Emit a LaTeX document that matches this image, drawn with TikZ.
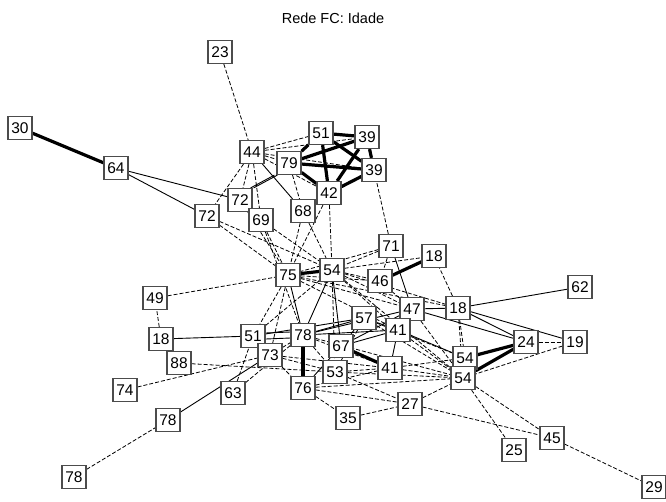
\documentclass[tikz,border=0pt]{standalone}
\usepackage{fontspec}
\setmainfont{Liberation Sans}
\usetikzlibrary{backgrounds}
\begin{document}
\begin{tikzpicture}[x=1pt,y=-1pt,
  v/.style={draw=black!70,line width=1.2pt,fill=white,minimum width=24pt,minimum height=23pt,inner sep=0pt,font=\fontsize{15.5}{15.5}\selectfont},
  ds/.style={line width=0.8pt,dash pattern=on 4pt off 2pt},
  sl/.style={line width=0.9pt},
  tk/.style={line width=3.2pt}]
\useasboundingbox (0,0) rectangle (666,501);
\node[font=\fontsize{14.5}{14.5}\selectfont] (title) at (333,18) {Rede FC: Idade};
\node[v] (n30) at (20,128) {30};
\node[v] (n64) at (116,168) {64};
\node[v] (n23) at (220,52) {23};
\node[v] (n44) at (252,152) {44};
\node[v] (n79) at (289,163) {79};
\node[v] (n51a) at (321,133) {51};
\node[v] (n39a) at (367,137) {39};
\node[v] (n39b) at (374,170) {39};
\node[v] (n42) at (329,193) {42};
\node[v] (n72a) at (240,200) {72};
\node[v] (n72b) at (207,216) {72};
\node[v] (n69) at (261,220) {69};
\node[v] (n68) at (303,211) {68};
\node[v] (n71) at (391,246) {71};
\node[v] (n18a) at (434,256) {18};
\node[v] (n75) at (288,275) {75};
\node[v] (n54a) at (332,270) {54};
\node[v] (n46) at (380,281) {46};
\node[v] (n62) at (580,287) {62};
\node[v] (n49) at (155,298) {49};
\node[v] (n47) at (412,309) {47};
\node[v] (n18b) at (458,308) {18};
\node[v] (n57) at (364,318) {57};
\node[v] (n41a) at (398,330) {41};
\node[v] (n18c) at (161,339) {18};
\node[v] (n51b) at (253,336) {51};
\node[v] (n78a) at (303,335) {78};
\node[v] (n24) at (526,342) {24};
\node[v] (n19) at (575,342) {19};
\node[v] (n88) at (179,363) {88};
\node[v] (n73) at (270,355) {73};
\node[v] (n67) at (341,346) {67};
\node[v] (n54b) at (465,358) {54};
\node[v] (n41b) at (390,368) {41};
\node[v] (n53) at (335,372) {53};
\node[v] (n54c) at (463,378) {54};
\node[v] (n74) at (125,390) {74};
\node[v] (n63) at (233,393) {63};
\node[v] (n76) at (303,388) {76};
\node[v] (n27) at (410,404) {27};
\node[v] (n35) at (348,418) {35};
\node[v] (n45) at (552,438) {45};
\node[v] (n25) at (514,450) {25};
\node[v] (n78b) at (168,420) {78};
\node[v] (n78c) at (74,477) {78};
\node[v] (n29) at (654,487) {29};
\begin{scope}[on background layer]
% thick
\draw[tk] (n30)--(n64);
\foreach \a/\b in {n51a/n39a,n51a/n39b,n51a/n42,n51a/n79,n39a/n79,n39a/n42,n39a/n39b,n79/n39b,n79/n42,n42/n39b,n75/n54a,n46/n18a,n78a/n76,n67/n41b,n54b/n24,n54c/n24}
  \draw[tk] (\a)--(\b);
% thin solid
\foreach \a/\b in {n64/n72a,n64/n72b,n18c/n51b,n78b/n73,n62/n18b,n18b/n24,n18b/n19,n18b/n47,n47/n24,n41a/n41b,n41a/n54b,n71/n47,n75/n78a,n54a/n78a,n54a/n67,n51b/n57,n78a/n57,n78a/n47,n78a/n41a,n67/n57,n67/n47,n67/n41a,n57/n41a,n76/n67,n44/n68}
  \draw[sl] (\a)--(\b);
\draw[sl] ([xshift=-2pt]n79.south west)--([xshift=-2pt]n72a.north east);
\draw[sl] ([xshift=1pt]n79.south west)--([xshift=1pt]n72a.north east);
\draw[sl] ([yshift=-3pt]n51b.east)--([yshift=-3pt]n78a.west);
\draw[sl] ([yshift=3pt]n51b.east)--([yshift=3pt]n78a.west);
% dashed
\foreach \a/\b in {n78c/n78b,n74/n73,n88/n53,n63/n51b,n63/n78a,n18c/n49,n18c/n88,n49/n75,n18b/n54b,n18b/n18a,n18b/n54c,n24/n19,n19/n54c,n54c/n45,n54c/n25,n27/n54c,n27/n45,n45/n29,n35/n27,n76/n27,n76/n35,n53/n27,n41a/n54c,n71/n39b,n71/n54a,n71/n75,n71/n46,n42/n54a,n42/n75,n23/n44,n44/n51a,n44/n39a,n44/n79,n44/n39b,n44/n42,n44/n72a,n44/n72b,n44/n69,n68/n75,n68/n54a,n69/n75,n69/n54a,n72b/n75,n72b/n54a,n75/n51b,n75/n73,n75/n47,n75/n18b,n75/n46,n54a/n46,n54a/n18a,n54a/n47,n54a/n18b,n54a/n41a,n54a/n51b,n54a/n53,n78a/n53,n78a/n41b,n78a/n54c,n73/n78a,n73/n53,n73/n41b,n73/n76,n53/n41b,n53/n54c,n53/n57,n76/n41b,n76/n54c,n41b/n54b,n41b/n54c,n57/n54c,n57/n54b,n47/n54c,n47/n46,n51a/n39a,n79/n68,n72a/n75,n69/n78a,n75/n41a,n54a/n54c}
  \draw[ds] (\a)--(\b);
\end{scope}
\end{tikzpicture}
\end{document}
